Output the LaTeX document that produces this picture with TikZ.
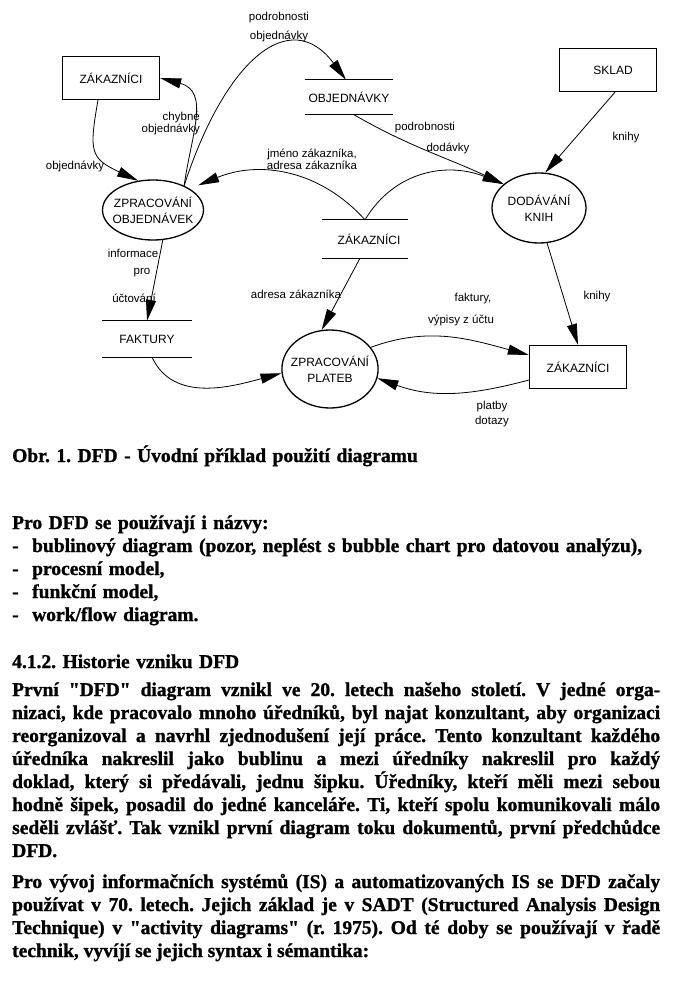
\documentclass[tikz,border=0pt]{standalone}
\usepackage{fontspec}
\setmainfont{Liberation Serif}[BoldFeatures={FakeBold=1.2}]
\newfontfamily\dfdsans{Liberation Sans}
\usetikzlibrary{arrows.meta,positioning,shapes.geometric}

\tolerance=10000
\hbadness=10000
\frenchspacing

\tikzset{
  entity/.style={draw,line width=1.3pt,minimum width=97pt,minimum height=43pt,inner sep=0pt,font=\dfdsans\fontsize{12}{15}\selectfont},
  process/.style={draw,ellipse,line width=1.3pt,align=center,inner xsep=-5pt,inner ysep=0pt,font=\dfdsans\fontsize{12}{16}\selectfont},
  store/.style={minimum width=88pt,minimum height=34pt,inner sep=0pt,font=\dfdsans\fontsize{12}{15}\selectfont},
  flow/.style={line width=0.8pt,-{Triangle[length=21pt,width=10pt]}},
  lbl/.style={align=center,inner sep=0pt,font=\dfdsans\fontsize{11.5}{12}\selectfont},
  txt/.style={inner sep=0pt,anchor=base west,text width=648pt,font=\bfseries\fontsize{19.5}{23}\selectfont},
}

\begin{document}
\begin{tikzpicture}[x=1pt,y=-1pt]
\useasboundingbox (0,0) rectangle (677,990);

% terminators
\node[entity] (zak1) at (111,78) {ZÁKAZNÍCI};
\node[entity] (sklad) at (608,70) {\hspace*{10pt}SKLAD};
\node[entity] (zak2) at (578,367) {ZÁKAZNÍCI};

% processes
\node[process,minimum width=101pt,minimum height=60pt] (proc1) at (153,210) {ZPRACOVÁNÍ\\OBJEDNÁVEK};
\node[process,minimum width=94pt,minimum height=70pt] (proc2) at (539,208) {DODÁVÁNÍ\\KNIH};
\node[process,minimum width=95pt,minimum height=78pt] (proc3) at (330,369) {ZPRACOVÁNÍ\\PLATEB};

% data stores
\node[store] (obj) at (349,97) {OBJEDNÁVKY};
\node[store,minimum width=86pt,minimum height=38pt] (zak) at (365,239) {\hspace*{8pt}ZÁKAZNÍCI};
\node[store,minimum width=90pt,minimum height=36pt] (fak) at (147,339) {FAKTURY};
\foreach \s in {obj,zak,fak}
  \draw[line width=1pt] (\s.north west) -- (\s.north east) (\s.south west) -- (\s.south east);

% flows
\draw[flow] ([xshift=-13pt]zak1.south) to[out=-100,in=155,looseness=1.5] (proc1.117);
\draw[flow] (proc1.38) to[out=82,in=-15,looseness=1.2] (zak1.east);
\draw[flow] (proc1.38) .. controls (225,60) and (290,5) .. ([xshift=-3pt]obj.north);
\draw[flow] ([xshift=4pt]obj.south) to[out=-30,in=155] (proc2.146);
\draw[flow,shorten >=9pt] (zak.north) .. controls (320,170) and (260,160) .. (proc1.30);
\draw[flow] (zak.north) .. controls (395,170) and (448,162) .. (proc2.146);
\draw[flow] ([xshift=7pt]sklad.south) -- (proc2.80);
\draw[flow] ([xshift=-5pt]zak.south) -- (proc3.102);
\draw[flow] (proc1.-72) -- (fak.north);
\draw[flow] ([xshift=5pt]fak.south) to[out=-65,in=195] (proc3.185);
\draw[flow] (proc3.28) to[out=20,in=165] ([yshift=12pt]zak2.west);
\draw[flow] ([yshift=-13pt]zak2.west) to[out=195,in=-20] (proc3.-11);
\draw[flow] (proc2.-77) -- (zak2.north);

% flow labels
\node[lbl] (lobj) at (75,166) {objednávky};
\node[lbl,align=right,anchor=east] (lchyb) at (200,123) {chybné\\objednávky};
\node[lbl] (lpodr) at (279,27) {podrobnosti\\[7pt]objednávky};
\node[lbl] (ldod1) at (425,128) {podrobnosti};
\node[lbl] (ldod2) at (448,148) {dodávky};
\node[lbl] (ljmeno) at (312,159) {jméno zákazníka,\\adresa zákazníka};
\node[lbl] (lknihy1) at (626,138) {knihy};
\node[lbl] (ladr) at (296,294) {adresa zákazníka};
\node[lbl] (linf1) at (133,253) {informace};
\node[lbl] (linf2) at (142,273) {pro};
\node[lbl] (linf3) at (134,298) {účtování};
\node[lbl] (lfakt1) at (473,299) {faktury,};
\node[lbl] (lfakt2) at (461,320) {výpisy z účtu};
\node[lbl] (lplat1) at (492,407) {platby};
\node[lbl] (lplat2) at (492,422) {dotazy};
\node[lbl] (lknihy2) at (597,297) {knihy};

% text below the figure
\node[txt] (caption) at (12,462) {Obr. 1. DFD - Úvodní příklad použití diagramu};
\node[txt,align=left] (names) at (12,529) {Pro DFD se používají i názvy:\\
  \makebox[20pt][l]{-}bublinový diagram (pozor, neplést s bubble chart pro datovou analýzu),\\
  \makebox[20pt][l]{-}procesní model,\\
  \makebox[20pt][l]{-}funkční model,\\
  \makebox[20pt][l]{-}work/flow diagram.};
\node[txt] (head) at (12,668) {4.1.2. Historie vzniku DFD};
\node[txt,align=justify] (hist) at (12,696) {První \textquotedbl DFD\textquotedbl{} diagram vznikl ve 20. letech našeho století. V jedné orga-\linebreak
  nizaci, kde pracovalo mnoho úředníků, byl najat konzultant, aby organizaci\linebreak
  reorganizoval a navrhl zjednodušení její práce. Tento konzultant každého\linebreak
  úředníka nakreslil jako bublinu a mezi úředníky nakreslil pro každý\linebreak
  doklad, který si předávali, jednu šipku. Úředníky, kteří měli mezi sebou\linebreak
  hodně šipek, posadil do jedné kanceláře. Ti, kteří spolu komunikovali málo\linebreak
  seděli zvlášť. Tak vznikl první diagram toku dokumentů, první předchůdce\linebreak
  DFD.};
\node[txt,align=justify] (vyvoj) at (12,888) {Pro vývoj informačních systémů (IS) a automatizovaných IS se DFD začaly\linebreak
  používat v 70. letech. Jejich základ je v SADT (Structured Analysis Design\linebreak
  Technique) v \textquotedbl activity diagrams\textquotedbl{} (r. 1975). Od té doby se používají v řadě\linebreak
  technik, vyvíjí se jejich syntax i sémantika:};
\end{tikzpicture}
\end{document}
